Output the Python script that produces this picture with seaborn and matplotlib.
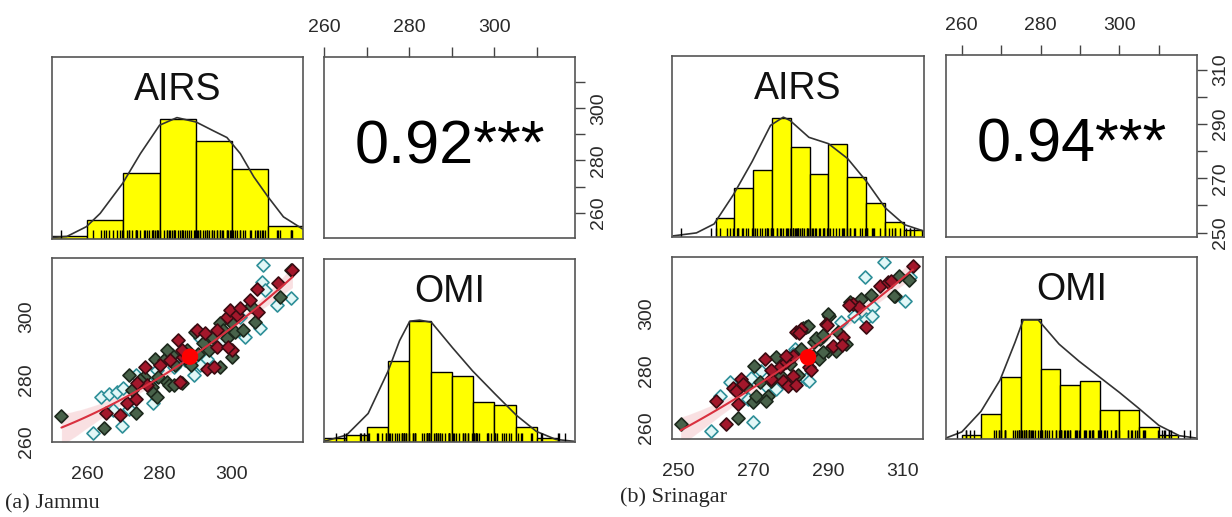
import numpy as np
import pandas as pd
import seaborn as sns
import matplotlib.pyplot as plt

## DATA

# (a) Jammu - monthly AIRS vs OMI values, group code per point
airs_j = [252.9, 261.6, 264.6, 263.7, 266.0, 268.3, 269.9, 269.6, 265.3, 267.2,
          269.0, 271.0, 271.5, 273.4, 273.6, 271.5, 273.6, 275.6, 276.1, 274.7,
          276.5, 277.9, 278.3, 278.2, 278.8, 280.2, 279.3, 279.7, 281.1, 282.0,
          282.5, 283.9, 283.0, 283.4, 283.9, 285.2, 285.7, 286.1, 286.6, 287.5,
          288.0, 289.4, 289.8, 290.3, 291.2, 292.1, 292.6, 293.0, 293.0, 294.4,
          294.9, 296.7, 295.8, 296.7, 297.2, 297.6, 298.5, 299.4, 299.6, 299.9,
          300.4, 299.9, 300.8, 301.3, 302.2, 302.9, 303.6, 305.0, 305.2, 306.3,
          306.8, 307.2, 307.7, 308.2, 308.6, 309.1, 312.3, 313.2, 312.8, 316.4,
          316.4, 316.7, 282.0, 284.3, 286.1, 287.0, 288.8, 290.6, 291.2, 293.6,
          294.5, 295.9, 298.5, 298.9, 302.2, 279.3, 277.0, 273.9, 272.5]
omi_j = [268.3, 262.7, 264.5, 274.4, 275.3, 276.0, 277.1, 265.0, 269.3, 270.2,
         268.6, 272.5, 270.4, 273.6, 269.3, 281.4, 281.4, 280.9, 284.1, 279.8,
         278.2, 277.6, 275.5, 272.3, 286.7, 284.6, 283.0, 280.9, 286.2, 279.3,
         278.2, 278.2, 286.2, 287.8, 284.1, 292.6, 279.3, 278.7, 287.3, 289.4,
         285.7, 281.4, 295.3, 295.8, 293.2, 291.6, 294.8, 286.7, 283.5, 293.7,
         284.1, 284.1, 295.8, 298.2, 292.6, 295.8, 300.1, 302.2, 298.5, 289.4,
         299.3, 287.1, 295.3, 300.6, 302.8, 296.0, 293.7, 305.5, 303.5, 298.5,
         308.9, 301.7, 296.4, 311.3, 316.7, 308.7, 303.9, 306.5, 311.0, 306.2,
         315.1, 315.3, 289.4, 284.6, 289.4, 286.2, 284.6, 288.3, 284.6, 289.4,
         291.0, 290.3, 293.2, 290.5, 300.1, 274.4, 278.7, 278.7, 276.6]
grp_j = list("GCGCCCCCRC" "RRCRGGCGRG" "RGGCGRCGGG" "GGRGCRRGRG" "GCGRCGRCRG"
             "RGRGCGRRGR" "CGGRRGCRGG" "RRCCCCCGRC" "GRGGRCGGCG" "CRGRCGCRG")
centre_j = [288.4, 287.3]

# (b) Srinagar
airs_s = [250.7, 258.9, 262.9, 266.0, 270.0, 261.1, 260.2, 263.8, 264.7, 265.6,
          266.0, 266.9, 267.3, 268.2, 268.7, 269.6, 270.4, 270.0, 270.9, 272.2,
          273.1, 271.8, 273.6, 274.0, 273.6, 274.9, 275.3, 276.2, 277.1, 276.2,
          278.0, 278.9, 279.8, 279.3, 280.7, 281.1, 281.6, 282.9, 284.2, 282.0,
          284.2, 282.9, 285.1, 286.0, 286.4, 287.8, 288.7, 289.6, 290.4, 290.0,
          291.3, 292.7, 293.6, 294.0, 294.9, 295.8, 296.7, 297.1, 298.4, 298.9,
          300.2, 300.2, 299.8, 302.0, 303.8, 305.1, 306.0, 307.8, 309.1, 310.7,
          311.8, 312.7, 287.6, 288.7, 283.5, 290.0, 285.1, 280.7, 284.6, 282.3,
          289.9, 286.8, 288.6, 293.9, 292.1, 285.5, 281.5, 281.9, 295.7, 301.5,
          301.9, 307.7, 306.9, 311.7, 274.8, 278.8, 280.6, 277.5, 274.8]
omi_s = [261.2, 258.8, 261.2, 263.2, 262.1, 271.1, 269.4, 275.8, 274.0, 272.9,
         268.2, 277.0, 275.2, 274.6, 269.9, 277.5, 281.6, 268.8, 271.1, 279.9,
         284.0, 275.8, 274.6, 271.1, 269.4, 277.0, 279.3, 284.6, 281.1, 273.5,
         276.4, 282.8, 282.2, 274.6, 285.1, 287.5, 293.3, 294.5, 295.1, 277.0,
         277.0, 287.5, 281.1, 285.1, 289.8, 291.0, 292.2, 296.3, 299.2, 286.9,
         288.7, 293.3, 296.8, 291.6, 289.2, 303.9, 303.3, 299.2, 302.1, 305.0,
         295.1, 298.0, 312.6, 302.1, 309.7, 317.9, 310.9, 306.2, 313.2, 304.4,
         312.6, 316.5, 284.0, 286.3, 294.8, 299.8, 276.4, 278.1, 295.4, 293.1,
         296.0, 291.4, 292.5, 289.0, 286.7, 280.3, 275.0, 278.5, 303.0, 306.5,
         298.9, 305.9, 311.2, 311.7, 280.3, 285.1, 285.9, 277.9, 276.3]
grp_s = list("GCRGCCRCRR" "RRRGCCGGGC" "RGCGGRGGRC" "RRGRRCRRGC" "CGRGGGGRGG"
             "RGCRGGRCRG" "RCCCRCRGGC" "CRGGGGCRGR" "RGGRGRRGRG" "CGRGRRCGG")
centre_s = [284.7, 284.6]

# histogram bins / counts
airs_j_edges = [250, 260, 270, 280, 290, 300, 310, 320]
airs_j_counts = [1, 6, 21, 38, 31, 22, 4]
omi_j_edges = [260, 265, 270, 275, 280, 285, 290, 295, 300, 305, 310, 315]
omi_j_counts = [1, 2, 4, 22, 33, 19, 18, 11, 10, 4, 1]
airs_s_edges = [260, 265, 270, 275, 280, 285, 290, 295, 300, 305, 310, 315]
airs_s_counts = [5, 13, 18, 32, 24, 17, 25, 16, 9, 4, 2]
omi_s_edges = [260, 265, 270, 275, 280, 285, 290, 295, 300, 305, 310, 315]
omi_s_counts = [1, 6, 15, 29, 17, 13, 14, 7, 7, 3, 1]

# density curves (same count scale as the bars)
airs_j_dx = [250.3, 254.4, 259.8, 263.6, 269.8, 274.7, 280.0, 284.8, 290.1, 294.9, 298.6, 302.3, 306.0, 309.9, 314.2, 319.6]
airs_j_dy = [0.5, 0.8, 3.9, 8.1, 17.6, 27.0, 36.0, 38.4, 37.0, 34.2, 32.1, 27.0, 19.7, 13.4, 7.0, 3.1]
omi_j_dx = [260.0, 265.2, 270.3, 275.0, 277.7, 280.1, 282.4, 285.2, 290.2, 294.9, 300.2, 305.2, 309.9, 314.5, 318.7]
omi_j_dy = [0.2, 1.9, 7.8, 19.4, 27.7, 33.0, 33.3, 32.7, 25.7, 19.4, 13.1, 7.3, 2.9, 0.7, 0.2]
airs_s_dx = [248.7, 254.9, 259.6, 264.7, 269.7, 274.6, 278.0, 279.8, 284.8, 290.0, 295.1, 300.1, 305.1, 310.2, 315.3]
airs_s_dy = [0.3, 1.1, 3.5, 11.3, 20.2, 29.9, 32.1, 31.2, 26.7, 25.0, 21.0, 14.9, 7.8, 3.3, 1.6]
omi_s_dx = [255.9, 260.0, 264.9, 269.7, 273.5, 275.6, 279.4, 284.7, 289.8, 294.9, 300.0, 304.8, 310.0, 315.2, 319.7]
omi_s_dy = [0.2, 1.7, 6.7, 14.2, 23.3, 28.75, 28.75, 22.9, 18.75, 15.0, 11.25, 7.5, 3.3, 0.8, 0.2]

corr_labels = ["0.92***", "0.94***"]
captions = ["(a) Jammu", "(b) Srinagar"]

## STYLE
sns.set_style("white")
plt.rcParams["font.family"] = ["Liberation Sans", "DejaVu Sans"]

W, H = 1232, 517
fig = plt.figure(figsize=(W / 100, H / 100), dpi=100)

face = {"G": "#48624a", "R": "#a3172b", "C": "#e2f7f7"}
edge = {"G": "#1c281c", "R": "#3b0b12", "C": "#2e8f98"}


def box(l, t, r, b):
    return fig.add_axes([l / W, 1 - b / H, (r - l) / W, (b - t) / H])


def frame(ax):
    for s in ax.spines.values():
        s.set_visible(True)
        s.set_color("#555555")
        s.set_linewidth(1.2)
    ax.set_xlabel("")
    ax.set_ylabel("")
    ax.tick_params(direction="out", length=7, width=1, color="#444444",
                   labelsize=14, pad=8, labelcolor="#2a2a2a")


def ticks(vals, every=2):
    return vals, [str(v) if i % every == 0 else "" for i, v in enumerate(vals)]


def hist_panel(ax, edges, counts, dx, dy, rug, lim, name):
    centers = [(a + b) / 2 for a, b in zip(edges[:-1], edges[1:])]
    sns.histplot(x=centers, weights=counts, bins=edges, color="yellow",
                 edgecolor="black", linewidth=1, alpha=1, ax=ax)
    sns.lineplot(x=dx, y=dy, color="#333333", lw=1.2, ax=ax)
    sns.rugplot(x=rug, height=0.05, color="black", lw=1.6, ax=ax)
    ax.set_xlim(*lim)
    ax.set_ylim(0, max(counts) / 0.66)
    ax.text(0.5, 0.82, name, transform=ax.transAxes, ha="center", va="center",
            fontsize=27, color="#111111")
    ax.set_xticks([])
    ax.set_yticks([])
    frame(ax)


def scatter_panel(ax, airs, omi, grp, centre, xlim, ylim, xt, yt):
    df = pd.DataFrame({"AIRS": airs, "OMI": omi, "grp": grp})
    for g in ["C", "G", "R"]:
        sub = df[df["grp"] == g]
        sns.scatterplot(data=sub, x="AIRS", y="OMI", marker="D", s=44,
                        color=face[g], edgecolor=edge[g], linewidth=1.2,
                        ax=ax, zorder=3)
    sns.scatterplot(x=[centre[0]], y=[centre[1]], s=140, color="red",
                    edgecolor="none", ax=ax, zorder=5)
    sns.regplot(data=df, x="AIRS", y="OMI", order=2, scatter=False, seed=0,
                color="#d9303f", line_kws={"lw": 1.5, "zorder": 4}, ax=ax)
    ax.set_xlim(*xlim)
    ax.set_ylim(*ylim)
    ax.set_xticks(xt[0], xt[1])
    ax.set_yticks(yt[0], yt[1])
    frame(ax)
    ax.tick_params(axis="x", pad=10)
    ax.tick_params(axis="y", labelrotation=90, pad=5)
    for lab in ax.get_yticklabels():
        lab.set_va("center")


def corr_panel(ax, xlim, ylim, xt, yt, txt):
    ax.set_xlim(*xlim)
    ax.set_ylim(*ylim)
    ax.xaxis.tick_top()
    ax.yaxis.tick_right()
    ax.set_xticks(xt[0], xt[1])
    ax.set_yticks(yt[0], yt[1])
    ax.text(0.5, 0.5, txt, transform=ax.transAxes, ha="center", va="center",
            fontsize=44, color="black")
    frame(ax)
    ax.tick_params(axis="y", labelrotation=90, pad=4)
    for lab in ax.get_yticklabels():
        lab.set_va("center")


## (a) Jammu
airs_lim_j, omi_lim_j = (250.3, 319.6), (259.9, 319.0)
hist_panel(box(52, 57, 303, 239), airs_j_edges, airs_j_counts, airs_j_dx, airs_j_dy,
           airs_j, airs_lim_j, "AIRS")
corr_panel(box(324, 57, 575, 238), omi_lim_j, airs_lim_j,
           ticks([260, 270, 280, 290, 300, 310]), ticks([260, 270, 280, 290, 300, 310]),
           corr_labels[0])
scatter_panel(box(52, 258, 303, 442), airs_j, omi_j, grp_j, centre_j, airs_lim_j, omi_lim_j,
              ticks([260, 270, 280, 290, 300, 310]), ticks([260, 270, 280, 290, 300, 310]))
hist_panel(box(324, 259, 575, 442), omi_j_edges, omi_j_counts, omi_j_dx, omi_j_dy,
           omi_j, omi_lim_j, "OMI")

## (b) Srinagar
airs_lim_s, omi_lim_s = (248.4, 315.4), (256.0, 319.7)
hist_panel(box(672, 56, 924, 237), airs_s_edges, airs_s_counts, airs_s_dx, airs_s_dy,
           airs_s, airs_lim_s, "AIRS")
corr_panel(box(946, 55, 1197, 237), omi_lim_s, airs_lim_s,
           ticks([260, 270, 280, 290, 300, 310]), ticks([250, 260, 270, 280, 290, 300, 310]),
           corr_labels[1])
scatter_panel(box(672, 257, 923, 439), airs_s, omi_s, grp_s, centre_s, airs_lim_s, omi_lim_s,
              ticks([250, 260, 270, 280, 290, 300, 310]), ticks([260, 270, 280, 290, 300, 310]))
hist_panel(box(946, 257, 1197, 439), omi_s_edges, omi_s_counts, omi_s_dx, omi_s_dy,
           omi_s, omi_lim_s, "OMI")

fig.text(5 / W, 1 - 504 / H, captions[0], family=["Liberation Serif", "DejaVu Serif"],
         fontsize=16, va="center", ha="left")
fig.text(620 / W, 1 - 497 / H, captions[1], family=["Liberation Serif", "DejaVu Serif"],
         fontsize=16, va="center", ha="left")

fig.savefig("out.png", dpi=100)
